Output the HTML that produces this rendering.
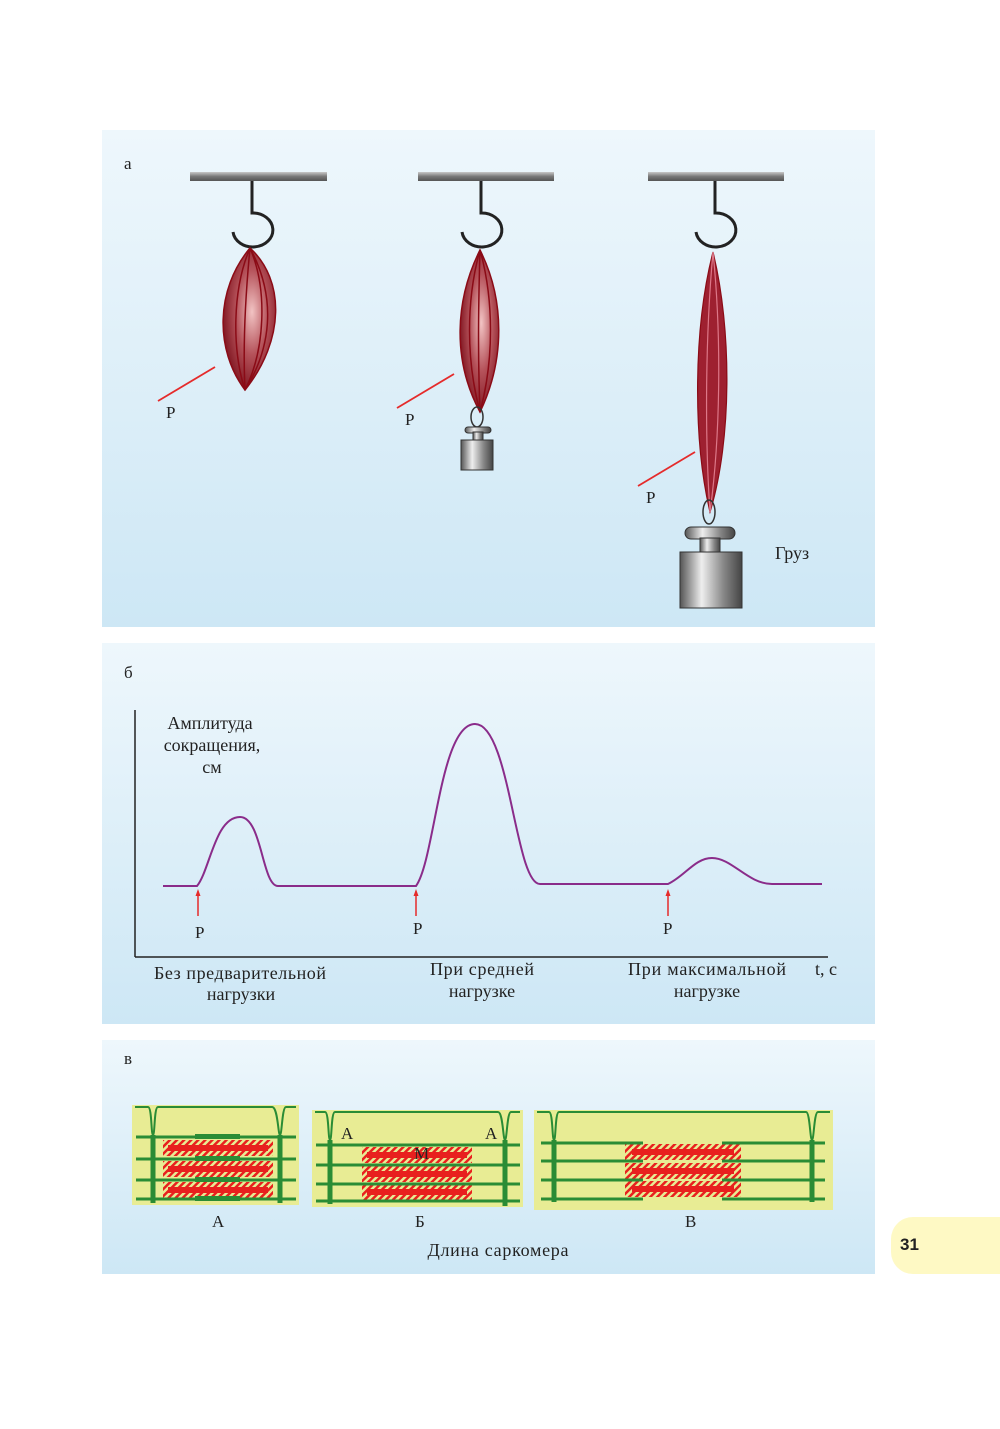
<!DOCTYPE html>
<html><head><meta charset="utf-8"><style>
html,body{margin:0;padding:0;background:#fff}
svg{display:block}
text{font-family:"Liberation Serif",serif;fill:#222}
</style></head><body>
<svg width="1000" height="1429" viewBox="0 0 1000 1429" xmlns="http://www.w3.org/2000/svg">
<defs>
<linearGradient id="bg" x1="0" y1="0" x2="0" y2="1"><stop offset="0" stop-color="#eef7fc"/><stop offset="1" stop-color="#cde7f5"/></linearGradient>
<linearGradient id="bar" x1="0" y1="0" x2="0" y2="1"><stop offset="0" stop-color="#c8c8c8"/><stop offset="0.5" stop-color="#777"/><stop offset="1" stop-color="#555"/></linearGradient>
<radialGradient id="mus" cx="0.55" cy="0.45" r="0.6"><stop offset="0" stop-color="#f2c4c4"/><stop offset="0.5" stop-color="#b5525a"/><stop offset="1" stop-color="#7a0f1a"/></radialGradient>
<linearGradient id="wt" x1="0" y1="0" x2="1" y2="0"><stop offset="0" stop-color="#555"/><stop offset="0.35" stop-color="#eee"/><stop offset="0.7" stop-color="#888"/><stop offset="1" stop-color="#444"/></linearGradient>
<pattern id="hatch" width="5" height="5" patternUnits="userSpaceOnUse" patternTransform="rotate(45)"><rect width="2.5" height="5" fill="#e8201e"/></pattern>
</defs>
<rect x="102" y="130" width="773" height="497" fill="url(#bg)"/>
<rect x="102" y="643" width="773" height="381" fill="url(#bg)"/>
<rect x="102" y="1040" width="773" height="234" fill="url(#bg)"/>
<rect x="891" y="1217" width="130" height="57" rx="22" fill="#fef9c4"/>
<text x="900" y="1250" style="font-family:'Liberation Sans',sans-serif;font-size:17px;font-weight:bold" fill="#111">31</text>

<text x="124" y="169" font-size="17">а</text>
<text x="124" y="678" font-size="17">б</text>
<text x="124" y="1064" font-size="17">в</text>

<g fill="url(#bar)"><rect x="190" y="172" width="137" height="9"/><rect x="418" y="172" width="136" height="9"/><rect x="648" y="172" width="136" height="9"/></g>
<g fill="none" stroke="#222" stroke-width="3">
<path d="M252 181 V213 A20 17 0 1 1 233 232"/>
<path d="M481 181 V213 A20 17 0 1 1 462 232"/>
<path d="M715 181 V213 A20 17 0 1 1 696 232"/>
</g>
<g stroke="#8b0b16" stroke-width="1.5">
<path d="M250 248 C285 280 285 340 245 390 C215 350 215 290 250 248Z" fill="url(#mus)"/>
<path d="M250 248 C232 290 232 350 245 390 M250 248 C268 290 265 350 245 390 M250 248 C245 300 243 350 245 390 M250 248 C278 300 270 350 245 390" fill="none"/>
</g>
<g stroke="#8b0b16" stroke-width="1.5">
<path d="M480 250 C505 300 505 360 480 412 C452 360 455 300 480 250Z" fill="url(#mus)"/>
<path d="M480 250 C466 300 466 360 480 412 M480 250 C494 300 494 360 480 412 M480 250 C478 320 478 360 480 412" fill="none"/>
</g>
<ellipse cx="477" cy="417" rx="6" ry="10" fill="none" stroke="#333" stroke-width="1.5"/>
<rect x="465" y="427" width="26" height="6" rx="3" fill="url(#wt)" stroke="#333"/>
<rect x="473" y="432" width="10" height="8" fill="url(#wt)" stroke="#333"/>
<rect x="461" y="440" width="32" height="30" fill="url(#wt)" stroke="#333"/>
<g stroke="#8b0b16" stroke-width="1.2">
<path d="M713 252 C732 330 732 440 710 512 C693 440 693 330 713 252Z" fill="#9e2030"/>
<path d="M713 252 C705 340 705 440 710 512 M713 252 C722 340 720 440 710 512" fill="none" stroke="#d78" />
</g>
<ellipse cx="709" cy="512" rx="6" ry="12" fill="none" stroke="#333" stroke-width="1.5"/>
<rect x="685" y="527" width="50" height="12" rx="6" fill="url(#wt)" stroke="#333"/>
<rect x="700" y="538" width="20" height="14" fill="url(#wt)" stroke="#333"/>
<rect x="680" y="552" width="62" height="56" fill="url(#wt)" stroke="#333"/>

<g stroke="#e52b2b" stroke-width="1.8">
<line x1="158" y1="401" x2="215" y2="367"/>
<line x1="397" y1="408" x2="454" y2="374"/>
<line x1="638" y1="486" x2="695" y2="452"/>
</g>
<g font-size="17">
<text x="166" y="418">Р</text>
<text x="405" y="425">Р</text>
<text x="646" y="503">Р</text>
<text x="775" y="559" font-size="18">Груз</text>
</g>

<g stroke="#222" stroke-width="1.5"><line x1="135" y1="710" x2="135" y2="957"/><line x1="135" y1="957" x2="828" y2="957"/></g>
<path d="M163 886 H197 C210 870 215 817 240 817 C262 817 262 886 278 886 H416 C435 860 440 724 475 724 C510 724 515 884 540 884 H668 C685 876 695 858 712 858 C732 858 748 884 772 884 H822" fill="none" stroke="#8a2c8a" stroke-width="2"/>
<g stroke="#e52b2b" stroke-width="1.5"><line x1="198" y1="894" x2="198" y2="916"/><line x1="416" y1="894" x2="416" y2="916"/><line x1="668" y1="894" x2="668" y2="916"/></g>
<g fill="#e52b2b"><path d="M195.5 896 L198 889 L200.5 896Z"/><path d="M413.5 896 L416 889 L418.5 896Z"/><path d="M665.5 896 L668 889 L670.5 896Z"/></g>
<g font-size="18">
<text x="195" y="938" font-size="17">Р</text><text x="413" y="934" font-size="17">Р</text><text x="663" y="934" font-size="17">Р</text>
<text x="210" y="729" text-anchor="middle">Амплитуда</text>
<text x="212" y="751" text-anchor="middle">сокращения,</text>
<text x="212" y="773" text-anchor="middle">см</text>
<text x="240" y="979" text-anchor="middle" textLength="172">Без предварительной</text>
<text x="241" y="1000" text-anchor="middle">нагрузки</text>
<text x="482" y="975" text-anchor="middle" textLength="104">При средней</text>
<text x="482" y="997" text-anchor="middle">нагрузке</text>
<text x="707" y="975" text-anchor="middle" textLength="158">При максимальной</text>
<text x="707" y="997" text-anchor="middle">нагрузке</text>
<text x="815" y="975">t, с</text>
</g>

<rect x="132" y="1105" width="167" height="100" fill="#e8ec94"/>
<rect x="312" y="1110" width="211" height="97" fill="#e8ec94"/>
<rect x="534" y="1110" width="299" height="100" fill="#e8ec94"/>
<g fill="none" stroke="#2a8c35" stroke-width="2">
<path d="M135 1107 H148 C152 1107 151 1135 153 1135 C155 1135 154 1107 158 1107 H272 C278 1107 278 1135 280 1135 C282 1135 282 1107 286 1107 H296"/>
<path d="M315 1112 H325 C329 1112 328 1140 330 1140 C332 1140 331 1112 335 1112 H498 C503 1112 503 1140 505 1140 C507 1140 507 1112 511 1112 H520"/>
<path d="M537 1112 H549 C553 1112 552 1140 554 1140 C556 1140 555 1112 559 1112 H806 C810 1112 810 1140 812 1140 C814 1140 814 1112 818 1112 H830"/>
</g>
<g fill="url(#hatch)">
<rect x="163" y="1140" width="110" height="16"/><rect x="163" y="1161" width="110" height="16"/><rect x="163" y="1182" width="110" height="16"/>
<rect x="362" y="1147" width="110" height="16"/><rect x="362" y="1166" width="110" height="16"/><rect x="362" y="1184" width="110" height="16"/>
<rect x="625" y="1144" width="116" height="16"/><rect x="625" y="1163" width="116" height="16"/><rect x="625" y="1181" width="116" height="16"/>
</g>
<g fill="#e8201e">
<rect x="168" y="1145" width="100" height="6"/><rect x="168" y="1166" width="100" height="6"/><rect x="168" y="1187" width="100" height="6"/>
<rect x="367" y="1152" width="100" height="6"/><rect x="367" y="1171" width="100" height="6"/><rect x="367" y="1189" width="100" height="6"/>
<rect x="632" y="1149" width="102" height="6"/><rect x="632" y="1168" width="102" height="6"/><rect x="632" y="1186" width="102" height="6"/>
</g>
<g stroke="#2a8c35" stroke-width="3" fill="none">
<line x1="136" y1="1137" x2="296" y2="1137"/><line x1="136" y1="1159" x2="296" y2="1159"/><line x1="136" y1="1180" x2="296" y2="1180"/><line x1="136" y1="1199" x2="296" y2="1199"/>
<line x1="316" y1="1145" x2="520" y2="1145"/><line x1="316" y1="1165" x2="520" y2="1165"/><line x1="316" y1="1184" x2="520" y2="1184"/><line x1="316" y1="1201" x2="520" y2="1201"/>
<line x1="541" y1="1143" x2="643" y2="1143"/><line x1="722" y1="1143" x2="825" y2="1143"/>
<line x1="541" y1="1161" x2="643" y2="1161"/><line x1="722" y1="1161" x2="825" y2="1161"/>
<line x1="541" y1="1180" x2="643" y2="1180"/><line x1="722" y1="1180" x2="825" y2="1180"/>
<line x1="541" y1="1199" x2="643" y2="1199"/><line x1="722" y1="1199" x2="825" y2="1199"/>
</g>
<g fill="#2a8c35">
<rect x="195" y="1134" width="45" height="5"/><rect x="195" y="1156" width="45" height="5"/><rect x="195" y="1177" width="45" height="5"/><rect x="195" y="1196" width="45" height="5"/>
</g>
<g stroke="#2a8c35" stroke-width="5">
<line x1="153" y1="1135" x2="153" y2="1203"/><line x1="280" y1="1135" x2="280" y2="1203"/>
<line x1="330" y1="1140" x2="330" y2="1204"/><line x1="505" y1="1140" x2="505" y2="1206"/>
<line x1="554" y1="1140" x2="554" y2="1202"/><line x1="812" y1="1140" x2="812" y2="1202"/>
</g>
<g font-size="17">
<text x="341" y="1139">А</text><text x="485" y="1139">А</text><text x="414" y="1159">М</text>
<text x="212" y="1227">А</text><text x="415" y="1227">Б</text><text x="685" y="1227">В</text>
<text x="498" y="1256" text-anchor="middle" font-size="18" textLength="141">Длина саркомера</text>
</g>
</svg>
</body></html>
